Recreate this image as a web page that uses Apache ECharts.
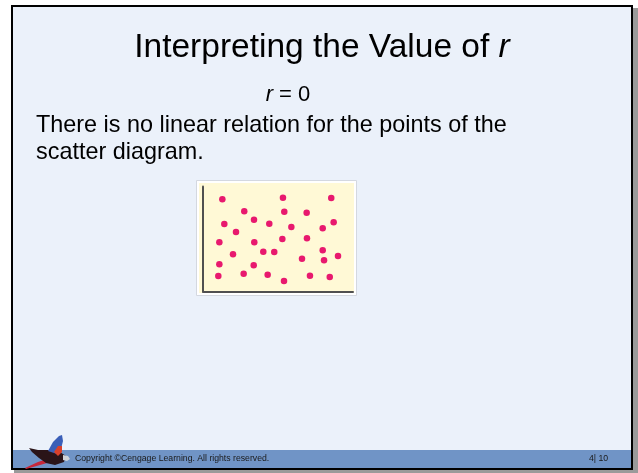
<!DOCTYPE html>
<html>
<head>
<meta charset="utf-8">
<title>Interpreting the Value of r</title>
<script src="https://cdn.jsdelivr.net/npm/echarts@6/dist/echarts.min.js"></script>
<style>
  html, body { margin: 0; padding: 0; background: #ffffff; }
  #chart { width: 638px; height: 473px; }
</style>
</head>
<body>
<div id="chart"></div>
<script>
// Scatter points with no linear relation (r = 0)
var xValues = [1.29, 5.33, 8.55, 2.75, 5.42, 6.91, 3.40, 1.42, 4.42, 8.71, 5.89, 7.98, 2.20, 1.09, 3.42, 5.29,
               6.93, 4.02, 4.75, 2.00, 7.98, 9.00, 6.60, 8.07, 1.09, 3.38, 1.02, 2.71, 4.31, 5.40, 7.13, 8.45];
var yValues = [6.15, 6.25, 6.23, 5.35, 5.32, 5.25, 4.79, 4.50, 4.52, 4.61, 4.30, 4.21, 3.97, 3.28, 3.28, 3.50,
               3.55, 2.65, 2.63, 2.48, 2.75, 2.37, 2.19, 2.08, 1.81, 1.75, 1.03, 1.19, 1.12, 0.70, 1.05, 0.97];
var xRange = [0, 10];
var yRange = [0, 7];

var titleText = 'Interpreting the Value of ';
var subtitleText = ' = 0';
var bodyLines = ['There is no linear relation for the points of the', 'scatter diagram.'];
var footerText = 'Copyright \u00A9Cengage Learning. All rights reserved.';
var pageText = '4| 10';

var points = xValues.map(function (x, i) { return [x, yValues[i]]; });

var chart = echarts.init(document.getElementById('chart'), null, { renderer: 'canvas' });

var font = '"Liberation Sans", Arial, sans-serif';

var option = {
  animation: false,
  backgroundColor: '#ffffff',
  grid: { left: 203, top: 186.5, width: 150, height: 105, containLabel: false },
  xAxis: {
    type: 'value', min: xRange[0], max: xRange[1],
    axisLine: { show: true, lineStyle: { color: '#505050', width: 2 } },
    axisTick: { show: false }, axisLabel: { show: false }, splitLine: { show: false }
  },
  yAxis: {
    type: 'value', min: yRange[0], max: yRange[1],
    axisLine: { show: true, lineStyle: { color: '#505050', width: 2 } },
    axisTick: { show: false }, axisLabel: { show: false }, splitLine: { show: false }
  },
  series: [{
    type: 'scatter',
    data: points,
    symbol: 'circle',
    symbolSize: 6.5,
    itemStyle: { color: '#E8196E', opacity: 1 },
    z: 5
  }],
  graphic: [
    // slide shadow and frame
    { type: 'rect', z: -30, shape: { x: 14, y: 8, width: 624, height: 465 }, style: { fill: '#9a9a9a' } },
    { type: 'rect', z: -29, shape: { x: 12, y: 6, width: 620, height: 463 }, style: { fill: '#EBF1FA', stroke: '#000000', lineWidth: 2 } },
    // footer bar
    { type: 'rect', z: -28, shape: { x: 13, y: 450, width: 618, height: 18 }, style: { fill: '#7094C6' } },
    // picture frame behind the plot
    { type: 'rect', z: -20, shape: { x: 196.5, y: 180.5, width: 160, height: 115 }, style: { fill: '#ffffff', stroke: '#d4d8e0', lineWidth: 1 } },
    { type: 'rect', z: -19, shape: { x: 199, y: 183, width: 155, height: 110 }, style: { fill: '#FFF9D6' } },
    // title
    {
      type: 'text', z: 10,
      style: {
        x: 322, y: 64.5, align: 'center', verticalAlign: 'bottom',
        text: '{a|' + titleText + '}{b|r}',
        rich: {
          a: { fontFamily: font, fontSize: 33.5, fill: '#000000' },
          b: { fontFamily: font, fontSize: 33.5, fontStyle: 'italic', fill: '#000000' }
        }
      }
    },
    // r = 0
    {
      type: 'text', z: 10,
      style: {
        x: 288, y: 106, align: 'center', verticalAlign: 'bottom',
        text: '{b|r}{a|' + subtitleText + '}',
        rich: {
          a: { fontFamily: font, fontSize: 22, fill: '#000000' },
          b: { fontFamily: font, fontSize: 22, fontStyle: 'italic', fill: '#000000' }
        }
      }
    },
    // body text
    { type: 'text', z: 10, style: { x: 36, y: 114, text: bodyLines[0], fontFamily: font, fontSize: 23.4, fill: '#000000', verticalAlign: 'top' } },
    { type: 'text', z: 10, style: { x: 36, y: 141, text: bodyLines[1], fontFamily: font, fontSize: 23.4, fill: '#000000', verticalAlign: 'top' } },
    // footer
    { type: 'text', z: 10, style: { x: 75, y: 459, text: footerText, fontFamily: font, fontSize: 8.7, fill: '#1a1a1a', verticalAlign: 'middle' } },
    { type: 'text', z: 10, style: { x: 589, y: 459, text: pageText, fontFamily: font, fontSize: 8.7, fill: '#1a1a1a', verticalAlign: 'middle' } },
    // parrot logo
    { type: 'polygon', z: 8, shape: { points: [[54, 461], [40, 465], [26, 469], [25, 468], [38, 462], [50, 458]] }, style: { fill: '#C8283A' } },
    { type: 'polygon', z: 9, shape: { points: [[29, 448], [38, 450], [50, 450], [60, 452], [66, 456], [64, 462], [55, 465], [46, 463], [39, 458], [32, 452]] }, style: { fill: '#2a1418' } },
    { type: 'polygon', z: 10, shape: { points: [[48, 451], [53, 442], [59, 436], [62, 435], [63, 441], [61, 449], [57, 454]] }, style: { fill: '#3A5FB8' } },
    { type: 'polygon', z: 11, shape: { points: [[54, 452], [58, 446], [62, 446], [62, 452], [58, 456]] }, style: { fill: '#D9402A' } },
    { type: 'polygon', z: 11, shape: { points: [[63, 455], [68, 456], [70, 459], [67, 461], [63, 460]] }, style: { fill: '#cfd3d8' } }
  ]
};

chart.setOption(option);
</script>
</body>
</html>
